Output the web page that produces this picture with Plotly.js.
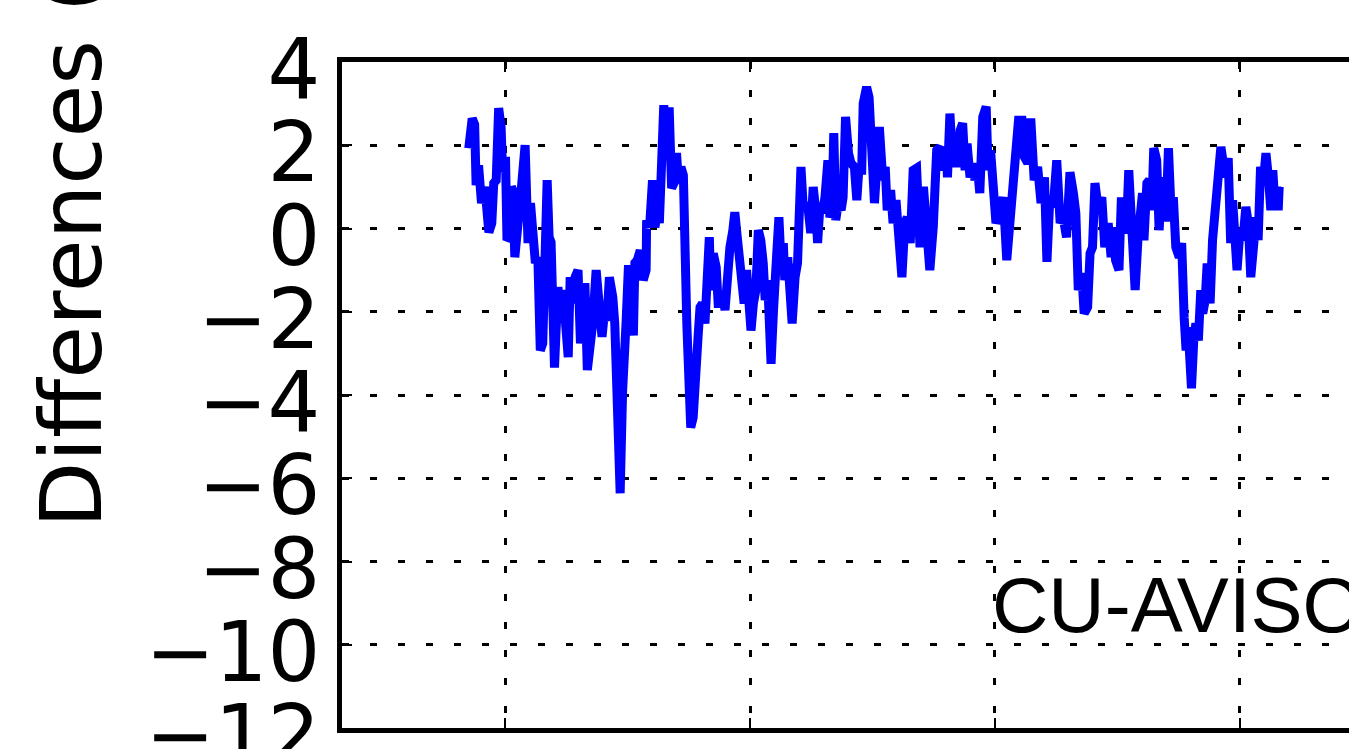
<!DOCTYPE html>
<html>
<head>
<meta charset="utf-8">
<script src="https://cdn.plot.ly/plotly-3.0.1.min.js"></script>
<style>
html,body{margin:0;padding:0;overflow:hidden;background:#fff;width:1349px;height:749px;}
#chart{width:1450px;height:749px;}
</style>
</head>
<body>
<div id="chart"></div>
<script>
// Time (decimal year) and differences series
var years = [
1994.26,1994.33,1994.38,1994.41,1994.46,1994.52,1994.59,1994.67,1994.73,1994.77,
1994.82,1994.87,1994.92,1994.95,1995.01,1995.04,1995.09,1995.13,1995.16,1995.20,
1995.28,1995.33,1995.41,1995.47,1995.52,1995.57,1995.62,1995.67,1995.72,1995.77,
1995.86,1995.90,1995.94,1996.01,1996.08,1996.13,1996.18,1996.23,1996.29,1996.33,
1996.38,1996.43,1996.49,1996.54,1996.59,1996.63,1996.68,1996.74,1996.79,1996.86,
1996.91,1996.98,1997.02,1997.08,1997.13,1997.20,1997.24,1997.29,1997.35,1997.40,
1997.43,1997.47,1997.52,1997.57,1997.62,1997.65,1997.70,1997.76,1997.79,1997.82,
1997.88,1997.89,1997.95,1997.96,1998.01,1998.06,1998.11,1998.15,1998.20,1998.24,
1998.30,1998.35,1998.40,1998.45,1998.50,1998.54,1998.59,1998.64,1998.71,1998.79,
1998.84,1998.90,1998.94,1998.98,1999.03,1999.08,1999.12,1999.17,1999.20,1999.25,
1999.31,1999.35,1999.40,1999.44,1999.49,1999.54,1999.59,1999.65,1999.69,1999.74,
1999.80,1999.84,1999.88,1999.93,1999.98,2000.02,2000.07,2000.12,2000.17,2000.22,
2000.27,2000.31,2000.36,2000.39,2000.43,2000.48,2000.51,2000.55,2000.59,2000.63,
2000.68,2000.71,2000.77,2000.82,2000.86,2000.92,2000.97,2001.04,2001.09,2001.14,
2001.19,2001.24,2001.29,2001.34,2001.38,2001.43,2001.48,2001.53,2001.59,2001.63,
2001.67,2001.71,2001.75,2001.80,2001.86,2001.90,2001.95,2002.01,2002.06,2002.13,
2002.18,2002.22,2002.28,2002.31,2002.38,2002.43,2002.48,2002.54,2002.64,2002.71,
2002.76,2002.80,2002.87,2002.92,2002.98,2003.03,2003.10,2003.16,2003.21,2003.27,
2003.33,2003.40,2003.47,2003.54,2003.61,2003.67,2003.74,2003.81,2003.88,2003.93,
2004.00,2004.03,2004.08,2004.14,2004.18,2004.23,2004.29,2004.34,2004.39,2004.43,
2004.49,2004.55,2004.59,2004.64,2004.69,2004.75,2004.82,2004.86,2004.91,2004.97,
2005.02,2005.07,2005.12,2005.17,2005.24,2005.31,2005.37,2005.48,2005.55,2005.60,
2005.67,2005.73,2005.80,2005.87,2005.94,2006.01,2006.06,2006.12,2006.19,2006.26,
2006.33,2006.39,2006.46,2006.53,2006.60,2006.65,2006.70,2006.77,2006.82,2006.89,
2006.94,2006.99,2007.04,2007.11,2007.18,2007.24,2007.31,2007.37,2007.41,2007.46,
2007.53,2007.58,2007.64,2007.69,2007.73,2007.79,2007.86,2007.92,2008.01,2008.04,
2008.10,2008.15,2008.20,2008.24,2008.30,2008.35,2008.40,2008.45,2008.49,2008.54,
2008.59,2008.64,2008.69,2008.76,2008.81,2008.86,2008.90,2008.94,2009.01,2009.06,
2009.10,2009.15,2009.20,2009.24,2009.29,2009.33,2009.39,2009.44,2009.49,2009.54,
2009.61,2009.66,2009.71,2009.76,2009.81,2009.85,2009.90,2009.94,2010.00,2010.06,
2010.12,2010.17,2010.22,2010.27,2010.33,2010.37,2010.42,2010.48,2010.53,2010.58,
2010.63,2010.67,2010.71,2010.75,2010.78,2010.80
];
var differences = [
1.93,2.64,2.50,1.04,1.52,0.61,1.00,-0.09,0.13,1.09,
1.16,2.89,2.44,1.35,1.72,-0.28,-0.21,1.00,0.92,-0.69,
0.68,0.92,2.00,-0.35,0.61,-0.69,-0.83,-0.69,-2.93,-2.76,
1.16,-0.21,-0.33,-3.34,-1.41,-2.13,-1.48,-2.20,-3.09,-1.17,
-1.80,-1.17,-1.00,-2.76,-1.89,-1.31,-3.40,-2.76,-2.28,-1.00,
-1.96,-2.60,-2.13,-2.20,-1.17,-1.65,-2.28,-3.90,-6.36,-3.90,
-2.52,-2.28,-0.88,-2.20,-2.57,-0.83,-0.76,-0.52,-1.17,-1.24,
-1.00,0.20,0.03,0.44,1.16,0.03,0.44,0.13,2.84,2.96,
2.12,2.91,0.97,1.09,1.81,1.09,1.48,1.28,-2.28,-4.78,
-4.54,-2.76,-2.60,-1.89,-1.80,-2.28,-1.48,-0.21,-1.48,-0.60,
-0.93,-1.80,-1.80,-1.56,-1.96,-0.60,-0.45,-0.04,0.39,-0.21,
-0.83,-1.41,-1.80,-1.00,-1.80,-2.45,-1.80,-1.48,-0.04,-0.28,
-0.83,-1.72,-1.24,-1.80,-3.25,-1.96,-0.69,-0.52,0.27,-0.76,
-0.35,-1.24,-0.69,-1.31,-2.28,-1.17,-0.83,1.48,0.44,0.61,
0.44,-0.11,1.00,0.44,-0.35,0.61,0.37,0.75,1.64,0.27,
0.44,2.29,0.20,0.61,0.44,0.75,2.68,1.81,1.57,1.48,
0.68,1.40,1.40,3.00,3.40,3.15,1.88,0.61,2.44,1.16,
1.48,0.44,0.92,0.13,0.68,-0.04,-1.17,0.13,0.27,-0.35,
1.40,1.45,-0.45,1.00,0.13,-1.00,0.03,1.88,1.96,1.40,
1.96,1.23,2.76,1.48,1.88,1.48,2.36,2.53,1.40,2.04,
1.23,1.57,1.16,1.48,0.85,2.68,2.93,1.40,1.88,1.16,
0.13,0.27,0.61,0.75,-0.76,0.44,1.40,2.60,2.60,1.72,
1.57,2.64,1.16,1.48,0.61,1.23,-0.80,0.75,0.52,1.64,
0.13,0.27,-0.21,1.35,0.85,0.37,-1.48,-1.07,-2.04,-1.89,
-0.60,-0.45,1.09,0.44,0.75,-0.45,0.13,-0.69,0.03,-0.76,
-1.00,0.75,-0.11,0.20,1.40,-0.52,-1.48,-0.21,0.85,-0.28,
1.09,1.16,0.44,1.93,1.64,-0.04,1.23,0.27,0.27,1.93,
0.52,0.75,-0.45,-0.69,-0.35,-2.13,-2.93,-2.37,-3.84,-2.61,
-2.28,-2.69,-1.48,-2.04,-1.72,-0.84,-1.80,-0.28,0.44,0.68,
1.96,1.57,1.23,1.69,-0.35,0.68,-0.45,-1.00,-0.04,-0.28,
0.52,0.13,-1.17,-0.21,0.27,-0.28,1.48,1.16,1.81,1.23,
0.44,1.40,0.61,1.00,0.44,1.00
];
var xTicks = [1995, 2000, 2005, 2010];
var yTicks = [4, 2, 0, -2, -4, -6, -8, -10, -12];
var yLabel = 'Differences (mm)';
var panelLabel = 'CU-AVISO';

var trace = {
  x: years, y: differences, type: 'scatter', mode: 'lines',
  line: {color: '#0000ff', width: 9, shape: 'linear'}, hoverinfo: 'skip'
};

var layout = {
  width: 1450, height: 749,
  margin: {l: 342, r: 47, t: 62, b: 21},
  paper_bgcolor: '#ffffff', plot_bgcolor: '#ffffff',
  showlegend: false,
  font: {family: 'DejaVu Sans', color: '#000'},
  xaxis: {
    range: [1991.673, 2013.327],
    tickvals: xTicks, showticklabels: false,
    showgrid: true, gridcolor: '#000', gridwidth: 3, griddash: '7px,21px',
    zeroline: false,
    showline: true, linecolor: '#000', linewidth: 5, mirror: 'ticks',
    ticks: 'inside', ticklen: 10, tickwidth: 2, tickcolor: '#000'
  },
  yaxis: {
    range: [-12, 4],
    tickvals: yTicks,
    ticktext: yTicks.map(function(v){ return v < 0 ? '\u2212' + Math.abs(v) : String(v); }),
    tickfont: {family: 'DejaVu Sans', size: 83, color: '#000'},
    ticklabelstandoff: 0,
    ticklabelshift: 7,
    ticklabeloverflow: 'allow',
    showgrid: true, gridcolor: '#000', gridwidth: 3, griddash: '7px,21px',
    zeroline: false,
    showline: true, linecolor: '#000', linewidth: 5, mirror: 'ticks',
    ticks: 'inside', ticklen: 10, tickwidth: 2, tickcolor: '#000'
  },
  annotations: [
    {
      text: yLabel, xref: 'paper', yref: 'paper',
      x: (71 - 342) / 1061, y: (728 - 530) / 666,
      xanchor: 'center', yanchor: 'bottom', textangle: -90,
      showarrow: false,
      font: {family: 'DejaVu Sans', size: 86, color: '#000'}
    },
    {
      text: panelLabel, xref: 'paper', yref: 'paper',
      x: (990 - 342) / 1061, y: (728 - 605) / 666,
      xanchor: 'left', yanchor: 'middle', showarrow: false,
      font: {family: 'Liberation Sans', size: 78, color: '#000'}
    }
  ]
};

Plotly.newPlot('chart', [trace], layout, {displayModeBar: false, staticPlot: true});
</script>
</body>
</html>
